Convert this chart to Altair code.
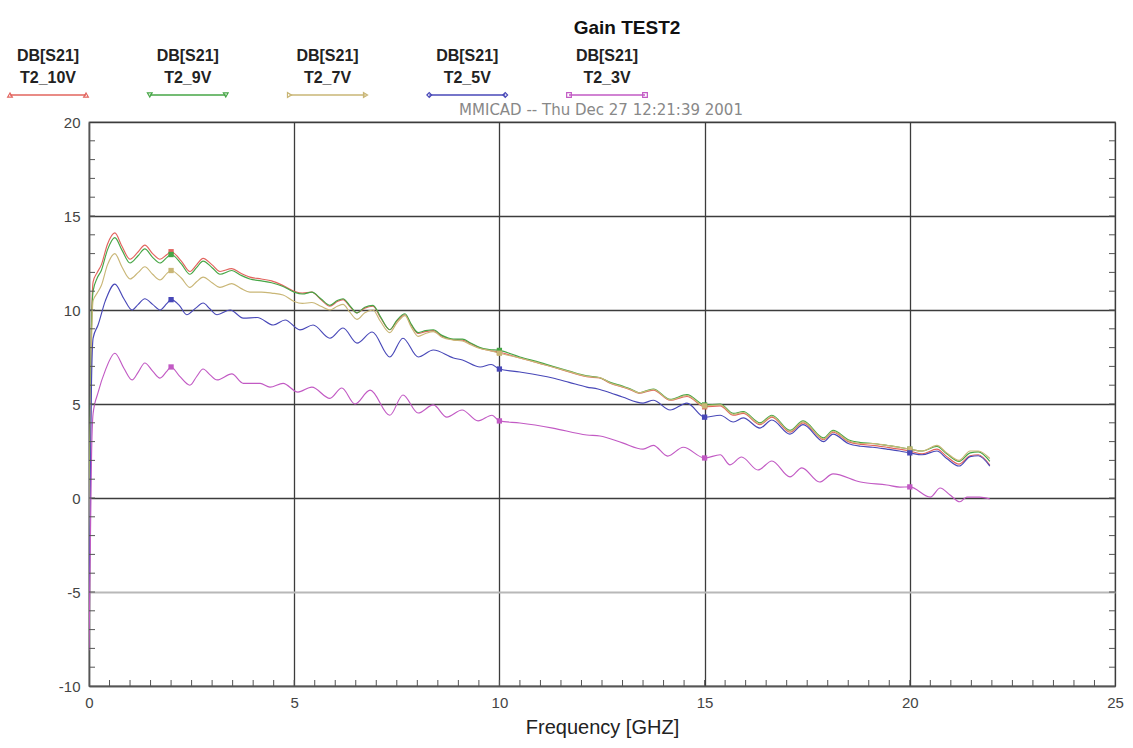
import altair as alt
import pandas as pd

W, H = 1026, 564
FONT = "Liberation Sans, Arial, sans-serif"

# ---- data -------------------------------------------------------------------
freq_a = [0.0, 0.03, 0.06, 0.1, 0.2, 0.3, 0.45, 0.63, 0.8, 1.0,
          1.2, 1.36, 1.55, 1.73, 1.9, 2.0, 2.25, 2.46, 2.62, 2.78,
          3.0, 3.19, 3.48, 3.7, 3.92, 4.2, 4.45, 4.73, 5.0, 5.2,
          5.43, 5.65, 5.87, 6.05, 6.19, 6.35, 6.53, 6.72, 6.92, 7.1,
          7.33, 7.5, 7.7, 7.85, 8.02, 8.2, 8.39, 8.6, 8.88, 9.1,
          9.3, 9.53, 9.75, 10.0, 10.5, 11.0, 11.3, 11.7, 12.13, 12.45,
          12.7, 13.0, 13.2, 13.4, 13.75, 14.16, 14.57, 15.0, 15.38, 15.7,
          15.94, 16.35, 16.64, 17.08, 17.4, 17.9, 18.13, 18.5, 18.8, 19.1,
          19.44, 19.75, 20.0, 20.3, 20.66, 20.9, 21.2, 21.47, 21.67, 21.95]

gain_10v = [-3.0, 3.0, 9.0, 11.5, 12.0, 12.4, 13.5, 14.1, 13.4, 12.7,
            13.1, 13.45, 13.0, 12.7, 12.95, 13.1, 12.6, 12.05, 12.4, 12.75,
            12.4, 12.05, 12.2, 11.95, 11.75, 11.65, 11.55, 11.3, 11.0, 10.9,
            10.95, 10.55, 10.2, 10.45, 10.55, 10.2, 9.85, 10.1, 10.2, 9.6,
            8.95, 9.4, 9.75, 9.2, 8.75, 8.85, 8.9, 8.6, 8.42, 8.4,
            8.2, 7.97, 7.85, 7.75, 7.45, 7.15, 6.97, 6.7, 6.45, 6.38,
            6.1, 5.9, 5.75, 5.57, 5.74, 5.2, 5.4, 4.85, 4.9, 4.4,
            4.5, 3.9, 4.3, 3.5, 4.0, 3.1, 3.5, 3.0, 2.85, 2.8,
            2.7, 2.6, 2.5, 2.35, 2.6, 2.2, 1.8, 2.25, 2.3, 1.75]

gain_9v = [-2.0, 4.0, 9.0, 11.0, 11.7, 12.1, 13.2, 13.85, 13.2, 12.5,
           12.9, 13.25, 12.8, 12.5, 12.8, 12.95, 12.45, 11.9, 12.25, 12.6,
           12.25, 11.9, 12.1, 11.85, 11.65, 11.55, 11.45, 11.25, 10.95, 10.85,
           10.95, 10.6, 10.25, 10.5, 10.6, 10.25, 9.85, 10.15, 10.25, 9.65,
           8.95, 9.45, 9.8, 9.25, 8.8, 8.9, 8.95, 8.65, 8.45, 8.45,
           8.25, 8.0, 7.9, 7.85, 7.5, 7.2, 7.0, 6.75, 6.5, 6.4,
           6.15, 5.95, 5.8, 5.6, 5.8, 5.25, 5.5, 4.95, 5.0, 4.5,
           4.6, 4.0, 4.4, 3.6, 4.1, 3.2, 3.6, 3.1, 2.95, 2.9,
           2.8, 2.7, 2.6, 2.5, 2.75, 2.35, 1.95, 2.4, 2.45, 1.95]

gain_7v = [-3.5, 3.0, 8.0, 10.5, 10.9, 11.3, 12.4, 13.0, 12.3, 11.65,
           12.0, 12.3, 11.9, 11.6, 11.95, 12.1, 11.7, 11.2, 11.5, 11.75,
           11.45, 11.2, 11.4, 11.15, 10.95, 10.95, 10.9, 10.8, 10.45, 10.35,
           10.4, 10.2, 10.0, 10.2, 10.3, 9.9, 9.5, 9.85, 10.0, 9.4,
           8.8, 9.3, 9.7, 9.1, 8.6, 8.75, 8.85, 8.55, 8.4, 8.35,
           8.15, 7.95, 7.85, 7.7, 7.45, 7.15, 6.97, 6.72, 6.47, 6.4,
           6.12, 5.92, 5.77, 5.6, 5.77, 5.22, 5.45, 4.9, 4.95, 4.45,
           4.55, 3.95, 4.35, 3.55, 4.05, 3.15, 3.55, 3.05, 2.9, 2.9,
           2.8, 2.7, 2.6, 2.5, 2.8, 2.4, 2.0, 2.5, 2.5, 2.1]

freq_5v = [0.0, 0.03, 0.06, 0.1, 0.22, 0.4, 0.63, 0.85, 1.05, 1.2,
           1.36, 1.55, 1.73, 1.9, 2.0, 2.2, 2.38, 2.6, 2.78, 2.95,
           3.12, 3.44, 3.76, 4.1, 4.49, 4.78, 5.14, 5.46, 5.87, 6.19,
           6.53, 6.9, 7.33, 7.65, 8.02, 8.39, 8.88, 9.1, 9.53, 9.8,
           10.0, 10.5, 11.3, 11.7, 12.13, 12.4, 12.7, 13.0, 13.5, 13.75,
           14.16, 14.57, 15.0, 15.38, 15.7, 15.94, 16.35, 16.64, 17.08, 17.4,
           17.9, 18.13, 18.5, 18.8, 19.1, 19.44, 19.75, 20.0, 20.3, 20.66,
           20.9, 21.2, 21.47, 21.67, 21.95]
gain_5v = [-6.6, 0.0, 6.0, 8.5, 9.2, 10.5, 11.38, 10.6, 10.0, 10.3,
           10.6, 10.3, 10.0, 10.35, 10.55, 10.25, 9.75, 10.1, 10.37, 10.05,
           9.75, 10.0, 9.57, 9.6, 9.2, 9.47, 8.94, 9.2, 8.5, 9.04,
           8.24, 8.83, 7.5, 8.5, 7.5, 7.87, 7.45, 7.34, 6.97, 7.1,
           6.86, 6.7, 6.38, 6.15, 5.9, 5.8, 5.6, 5.37, 5.05, 5.2,
           4.68, 5.05, 4.3, 4.4, 4.04, 4.26, 3.72, 4.15, 3.4, 3.9,
           3.0, 3.4, 2.9, 2.75, 2.7, 2.6, 2.5, 2.4, 2.3, 2.5,
           2.1, 1.7, 2.2, 2.25, 1.7]

freq_3v = [0.0, 0.03, 0.06, 0.1, 0.22, 0.4, 0.63, 0.85, 1.05, 1.2,
           1.36, 1.55, 1.73, 1.9, 2.0, 2.2, 2.46, 2.62, 2.78, 2.95,
           3.12, 3.48, 3.76, 4.17, 4.41, 4.73, 5.09, 5.43, 5.87, 6.16,
           6.48, 6.85, 7.33, 7.65, 8.02, 8.39, 8.72, 9.09, 9.48, 9.82,
           10.0, 10.5, 11.3, 12.13, 12.45, 13.0, 13.5, 13.75, 14.1, 14.48,
           15.0, 15.38, 15.62, 15.9, 16.3, 16.64, 17.08, 17.37, 17.8, 18.13,
           18.8, 19.44, 19.76, 20.0, 20.5, 20.74, 20.98, 21.22, 21.39, 21.7,
           21.95]
gain_3v = [-8.1, -3.0, 2.0, 4.5, 5.6, 6.8, 7.7, 6.9, 6.28, 6.7,
           7.18, 6.75, 6.38, 6.75, 6.97, 6.5, 6.0, 6.45, 6.86, 6.55,
           6.28, 6.6, 6.1, 6.1, 5.9, 6.1, 5.63, 5.9, 5.3, 5.85,
           5.0, 5.74, 4.4, 5.48, 4.52, 4.95, 4.3, 4.68, 4.1, 4.4,
           4.1, 3.99, 3.72, 3.35, 3.3, 2.93, 2.6, 2.8, 2.23, 2.7,
           2.13, 2.3, 1.76, 2.18, 1.49, 1.97, 1.12, 1.6, 0.85, 1.28,
           0.85, 0.69, 0.58, 0.59, 0.05, 0.53, 0.16, -0.2, 0.05, 0.05,
           -0.05]

series_names = ["T2_10V", "T2_9V", "T2_7V", "T2_5V", "T2_3V"]
series_colors = ["#e2645e", "#46a646", "#c9b676", "#4848b8", "#c25ac4"]
legend_shapes = ["triangle-up", "triangle-down", "triangle-right", "diamond", "square"]
marker_freqs = [2.0, 10.0, 15.0, 20.0]

x_major = [0, 5, 10, 15, 20, 25]
y_major = [-10, -5, 0, 5, 10, 15, 20]
x_minor = [k / 2 for k in range(1, 50)]
y_minor = list(range(-9, 20))

title_text = "Gain TEST2"
subtitle_text = "MMICAD -- Thu Dec 27 12:21:39 2001"
x_title = "Frequency [GHZ]"

# ---- tables --------------------------------------------------------------------
pairs = [(freq_a, gain_10v), (freq_a, gain_9v), (freq_a, gain_7v),
         (freq_5v, gain_5v), (freq_3v, gain_3v)]
frames = []
for i, (fs, gs) in enumerate(pairs):
    frames.append(pd.DataFrame({"f": fs, "gain": gs, "series": series_names[i], "ord": i}))
df = pd.concat(frames, ignore_index=True)

legend_df = pd.DataFrame({
    "series": series_names,
    "label1": ["DB[S21]"] * 5,
    "cx": [-41 + 139.75 * i for i in range(5)],
})
legend_df["x0"] = legend_df["cx"] - 38
legend_df["x1"] = legend_df["cx"] + 38
ends = pd.concat([legend_df.assign(ex=legend_df["x0"]), legend_df.assign(ex=legend_df["x1"])])

color_scale = alt.Scale(domain=series_names, range=series_colors)
shape_scale = alt.Scale(domain=series_names, range=legend_shapes)
xs = alt.Scale(domain=[0, 25], nice=False, zero=False)
ys = alt.Scale(domain=[-10, 20], nice=False, zero=False)

x_axis = alt.Axis(values=x_major, grid=True, ticks=False, labelFont=FONT, labelFontSize=15,
                  labelColor="#444", labelPadding=9, title=x_title, titleFont=FONT,
                  titleFontSize=20, titleFontWeight="normal", titleColor="#222",
                  titlePadding=7, domainColor="#555", domainWidth=1.5,
                  gridColor="#3c3c3c", gridWidth=1.3, labelFlush=False,
                  labelExpr="toString(datum.value)")
y_axis = alt.Axis(values=y_major, grid=True, ticks=False, labelFont=FONT, labelFontSize=15,
                  labelColor="#444", labelPadding=9, title=None, domainColor="#555",
                  domainWidth=1.5,
                  gridColor={"condition": {"test": "datum.value === -5", "value": "#b8b8b8"},
                             "value": "#3c3c3c"},
                  gridWidth={"condition": {"test": "datum.value === -5", "value": 2.2},
                             "value": 1.3},
                  labelFlush=False, labelExpr="toString(datum.value)")

lines = alt.Chart(df).mark_line(strokeWidth=1.15, clip=True, interpolate="monotone").encode(
    x=alt.X("f:Q", scale=xs, axis=x_axis),
    y=alt.Y("gain:Q", scale=ys, axis=y_axis),
    color=alt.Color("series:N", scale=color_scale, legend=None),
    detail="series:N",
    order=alt.Order("f:Q"),
)

points = alt.Chart(df).transform_filter(
    alt.FieldOneOfPredicate(field="f", oneOf=marker_freqs)
).mark_point(shape="square", filled=True, size=28, opacity=1).encode(
    x=alt.X("f:Q", scale=xs),
    y=alt.Y("gain:Q", scale=ys),
    color=alt.Color("series:N", scale=color_scale, legend=None),
)

tick_left = alt.Chart(pd.DataFrame({"gain": y_minor})).mark_rule(color="#555", strokeWidth=1).encode(
    y=alt.Y("gain:Q", scale=ys), x=alt.value(0), x2=alt.value(6))
tick_right = alt.Chart(pd.DataFrame({"gain": y_minor})).mark_rule(color="#555", strokeWidth=1).encode(
    y=alt.Y("gain:Q", scale=ys), x=alt.value(W - 6), x2=alt.value(W))
tick_bottom = alt.Chart(pd.DataFrame({"f": x_minor})).mark_rule(color="#555", strokeWidth=1).encode(
    x=alt.X("f:Q", scale=xs), y=alt.value(H - 6), y2=alt.value(H))

leg_base = alt.Chart(legend_df)
leg_t1 = leg_base.mark_text(font=FONT, fontSize=16, fontWeight="bold", color="#222",
                            align="center", baseline="middle").encode(
    x=alt.X("cx:Q", scale=None), y=alt.value(-66), text="label1:N")
leg_t2 = leg_base.mark_text(font=FONT, fontSize=16, fontWeight="bold", color="#222",
                            align="center", baseline="middle").encode(
    x=alt.X("cx:Q", scale=None), y=alt.value(-44), text="series:N")
leg_line = leg_base.mark_rule(strokeWidth=1.5).encode(
    x=alt.X("x0:Q", scale=None), x2="x1:Q", y=alt.value(-27),
    color=alt.Color("series:N", scale=color_scale, legend=None))
leg_ends = alt.Chart(ends).mark_point(size=22, filled=False, strokeWidth=1.2, opacity=1).encode(
    x=alt.X("ex:Q", scale=None), y=alt.value(-27),
    color=alt.Color("series:N", scale=color_scale, legend=None),
    shape=alt.Shape("series:N", scale=shape_scale, legend=None))

title_df = pd.DataFrame({"t": [title_text]})
title_mark = alt.Chart(title_df).mark_text(font=FONT, fontSize=19, fontWeight="bold", color="#111",
                                            align="center", baseline="middle").encode(
    x=alt.value(538), y=alt.value(-94), text="t:N")
sub_df = pd.DataFrame({"t": [subtitle_text]})
sub_mark = alt.Chart(sub_df).mark_text(font="DejaVu Sans, sans-serif", fontSize=15, color="#888",
                                        align="center", baseline="middle").encode(
    x=alt.value(512), y=alt.value(-12), text="t:N")

chart = alt.layer(
    lines, points, tick_left, tick_right, tick_bottom,
    leg_t1, leg_t2, leg_line, leg_ends, title_mark, sub_mark,
).properties(
    width=W, height=H,
    autosize=alt.AutoSizeParams(type="none"),
    padding={"left": 89, "top": 122, "right": 18, "bottom": 62},
    background="white",
).configure_view(stroke="#888", strokeWidth=1.3)

chart.save("out.html", embed_options={"renderer": "svg", "actions": False})
